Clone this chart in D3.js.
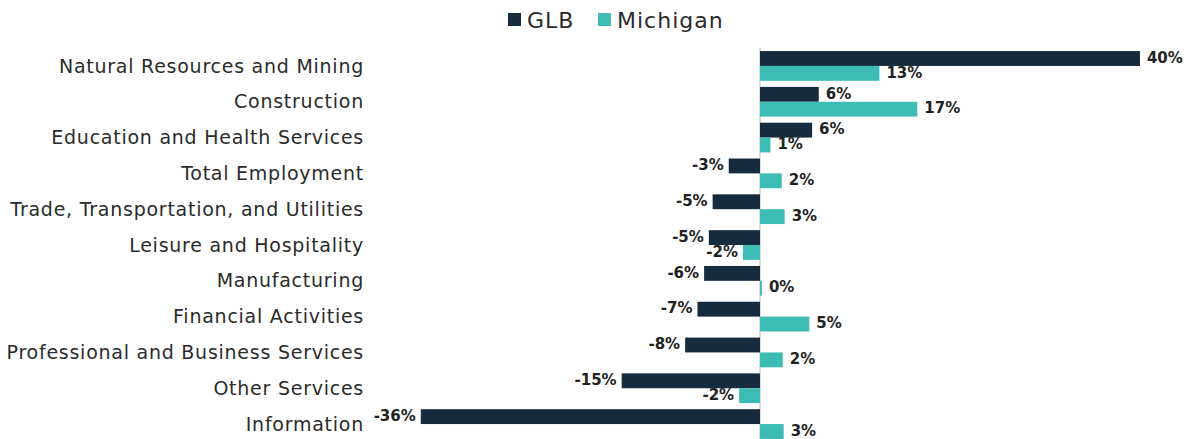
<!DOCTYPE html>
<meta charset="utf-8">
<script src="https://cdn.jsdelivr.net/npm/d3@7"></script>
<style type="text/css">
    body { margin: 0; background: #fff; }
    .cat { font-family: "DejaVu Sans", sans-serif; font-size: 19px; fill: #2b2b2b; letter-spacing: 0.75px; }
    .val { font-family: "DejaVu Sans", sans-serif; font-size: 15px; font-weight: bold; fill: #222; }
    .legend text { font-family: "DejaVu Sans", sans-serif; font-size: 22px; fill: #2b2b2b; letter-spacing: 1px; }
</style>
<body>
<script>
    var categories = ["Natural Resources and Mining", "Construction", "Education and Health Services",
        "Total Employment", "Trade, Transportation, and Utilities", "Leisure and Hospitality",
        "Manufacturing", "Financial Activities", "Professional and Business Services",
        "Other Services", "Information"];

    var seriesNames = ["GLB", "Michigan"];
    var glb = [40.1, 6.2, 5.5, -3.3, -5.0, -5.4, -5.9, -6.6, -7.9, -14.6, -35.8];
    var michigan = [12.6, 16.6, 1.1, 2.3, 2.6, -1.8, 0.2, 5.2, 2.4, -2.2, 2.5];
    var colors = ["#172b3e", "#3cbcb4"];

    var width = 1204, height = 439;

    var svg = d3.select("body")
        .append("svg")
        .attr("width", width)
        .attr("height", height);

    var x = d3.scaleLinear().domain([-40, 40]).range([381, 1139]);
    var y = d3.scaleBand().domain(categories).range([45, 445]).padding(0.17);
    var sub = d3.scaleBand().domain(seriesNames).range([0, y.bandwidth()]);

    var rows = categories.map(function(c, i) {
        return {cat: c, values: [glb[i], michigan[i]]};
    });

    // zero line
    svg.append("line")
        .attr("x1", x(0)).attr("x2", x(0))
        .attr("y1", 48).attr("y2", height)
        .style("stroke", "#d0d0d0")
        .style("stroke-width", 1.5);

    var g = svg.selectAll(".row")
        .data(rows)
        .enter()
        .append("g")
        .attr("transform", function(d) { return "translate(0," + y(d.cat) + ")"; });

    seriesNames.forEach(function(s, k) {
        g.append("rect")
            .attr("x", function(d) { return x(Math.min(0, d.values[k])); })
            .attr("y", sub(s))
            .attr("width", function(d) { return Math.abs(x(d.values[k]) - x(0)); })
            .attr("height", sub.bandwidth())
            .style("fill", colors[k]);

        g.append("text")
            .attr("class", "val")
            .attr("x", function(d) {
                var v = d.values[k];
                return v < 0 ? x(v) - 5 : x(v) + 7;
            })
            .attr("y", sub(s) + sub.bandwidth() / 2 - 1)
            .attr("dy", "0.35em")
            .attr("text-anchor", function(d) { return d.values[k] < 0 ? "end" : "start"; })
            .text(function(d) { return Math.round(d.values[k]) + "%"; });
    });

    // category labels
    svg.selectAll(".cat")
        .data(categories)
        .enter()
        .append("text")
        .attr("class", "cat")
        .attr("x", 364)
        .attr("y", function(d) { return y(d) + y.bandwidth() / 2; })
        .attr("dy", "0.35em")
        .attr("text-anchor", "end")
        .text(function(d) { return d; });

    // legend
    var legend = svg.append("g").attr("class", "legend");
    var legendX = [508, 598];
    seriesNames.forEach(function(s, k) {
        legend.append("rect")
            .attr("x", legendX[k]).attr("y", 13)
            .attr("width", 13).attr("height", 13)
            .style("fill", colors[k]);
        legend.append("text")
            .attr("x", legendX[k] + 19).attr("y", 20)
            .attr("dy", "0.35em")
            .text(s);
    });
</script>
</body>
